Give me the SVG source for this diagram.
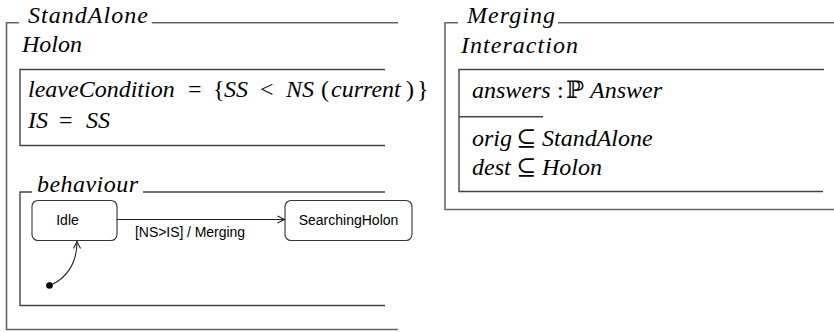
<svg xmlns="http://www.w3.org/2000/svg" width="834" height="332" viewBox="0 0 834 332">
<defs>
<style>
.bg{fill:#ffffff}
.fr{fill:none;stroke:#666666;stroke-width:1.6}
.in{fill:none;stroke:#444444;stroke-width:1.4}
.st{fill:#ffffff;stroke:#333333;stroke-width:1.1}
.m{font-family:"Liberation Serif","DejaVu Serif",serif;font-style:italic;font-size:24px;fill:#000}
.u{font-style:normal}
.s{font-family:"Liberation Sans",Arial,sans-serif;font-size:14px;fill:#000}
.c{fill:none;stroke:#222222;stroke-width:1.1}
</style>
<marker id="open" markerWidth="10" markerHeight="10" refX="8" refY="5" orient="auto" markerUnits="userSpaceOnUse">
<path d="M1,1.5 L8,5 L1,8.5" fill="none" stroke="#222222" stroke-width="1.1"/>
</marker>
</defs>
<rect class="bg" x="0" y="0" width="834" height="332"/>

<g id="standalone">
<path class="fr" d="M19,22.7 H6.5 V329.5 H398 M152,22.7 H398"/>
<text class="m" x="28" y="22.7" textLength="120" lengthAdjust="spacing">StandAlone</text>
<text class="m" x="22" y="52" textLength="60" lengthAdjust="spacing">Holon</text>
</g>

<g id="holon-state">
<path class="in" d="M385,69.5 H20 V145.5 H385"/>
<text class="m" y="97"><tspan x="28">leaveCondition</tspan><tspan class="u" x="188">=</tspan><tspan class="u" x="213">{</tspan><tspan x="224">SS</tspan><tspan class="u" x="260">&lt;</tspan><tspan x="286">NS</tspan><tspan class="u" x="321">(</tspan><tspan x="331">current</tspan><tspan class="u" x="406">)</tspan><tspan class="u" x="417">}</tspan></text>
<text class="m" y="128"><tspan x="28">IS</tspan><tspan class="u" x="59">=</tspan><tspan x="86">SS</tspan></text>
</g>

<g id="behaviour">
<path class="in" d="M32,192 H20 V305.5 H385 M143,192 H385"/>
<text class="m" x="37" y="192" textLength="101" lengthAdjust="spacing">behaviour</text>
</g>

<g id="idle">
<rect class="st" x="32" y="200.5" width="85" height="40" rx="6"/>
<text class="s" x="67.5" y="225" text-anchor="middle">Idle</text>
</g>

<g id="searching-holon">
<rect class="st" x="285" y="200.5" width="127" height="40" rx="6"/>
<text class="s" x="348.5" y="225" text-anchor="middle">SearchingHolon</text>
</g>

<g id="initial">
<circle cx="49.5" cy="285.5" r="3.3" fill="#000"/>
</g>

<g id="merging">
<path class="fr" d="M458,22.7 H445 V209.5 H834 M558,22.7 H834"/>
<text class="m" x="467" y="22.7" textLength="88" lengthAdjust="spacing">Merging</text>
<text class="m" x="461" y="53" textLength="117" lengthAdjust="spacing">Interaction</text>
</g>

<g id="interaction-schema">
<path class="in" d="M824,69.5 H459 V191.5 H823 M459,116.7 H543"/>
<text class="m" y="98"><tspan x="472">answers</tspan><tspan class="u" x="557">:</tspan><tspan class="u" x="566">ℙ</tspan><tspan x="590">Answer</tspan></text>
<text class="m" y="146"><tspan x="472">orig</tspan><tspan class="u" x="516">⊆</tspan><tspan x="542">StandAlone</tspan></text>
<text class="m" y="175"><tspan x="472">dest</tspan><tspan class="u" x="516">⊆</tspan><tspan x="542">Holon</tspan></text>
</g>

<g id="connectors">
<path class="c" d="M117,219.5 H284.5" marker-end="url(#open)"/>
<text class="s" x="135" y="236.5" textLength="110" lengthAdjust="spacing">[NS&gt;IS] / Merging</text>
<path class="c" d="M52,284.5 C64,279 77,266 77,241.5" marker-end="url(#open)"/>
</g>
</svg>
